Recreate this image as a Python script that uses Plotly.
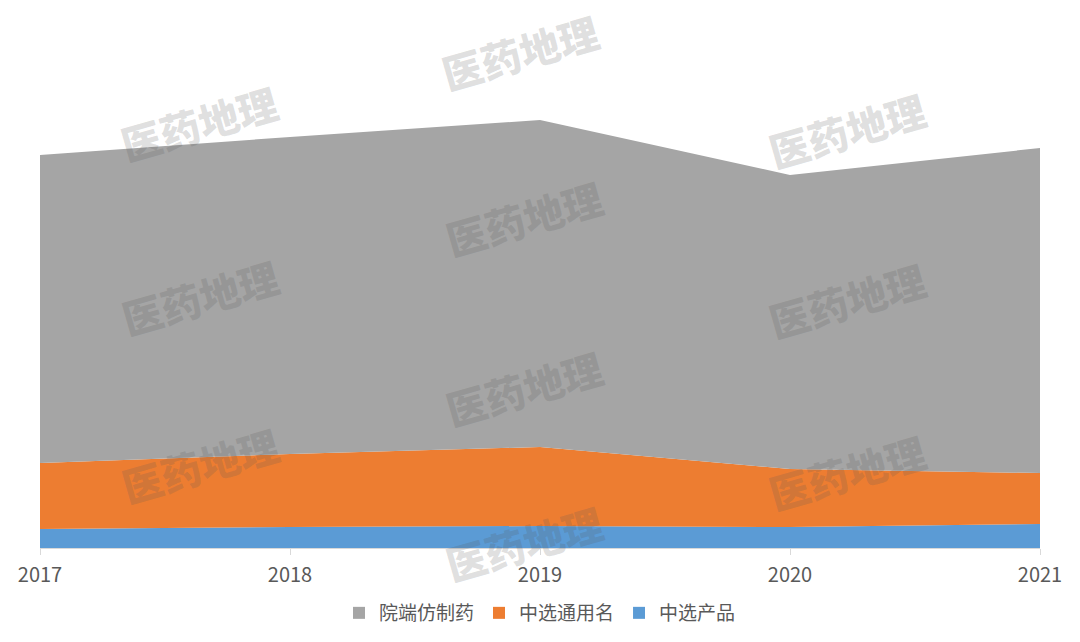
import plotly.graph_objects as go

years = [2017, 2018, 2019, 2020, 2021]
series_names = ["中选产品", "中选通用名", "院端仿制药"]
selected_products = [19, 21, 22, 21, 24]
selected_generic_names = [66, 73, 79, 58, 51]
hospital_generics = [308, 317, 327, 294, 325]
colors = ["#5B9BD5", "#ED7D31", "#A5A5A5"]
watermark_text = "医药地理"

FONT = "Noto Sans CJK SC, Microsoft YaHei, sans-serif"

fig = go.Figure()
for name, vals, col in zip(series_names,
                           [selected_products, selected_generic_names, hospital_generics],
                           colors):
    fig.add_trace(go.Scatter(
        x=years, y=vals, name=name, mode="lines",
        stackgroup="one", line=dict(width=0, color=col),
        fillcolor=col, hoverinfo="x+y+name", showlegend=False,
    ))
# legend entries with square swatches
for name, col in zip(series_names, colors):
    fig.add_trace(go.Scatter(
        x=[None], y=[None], mode="markers", name=name,
        marker=dict(symbol="square", size=10, color=col), showlegend=True,
    ))

# watermark positions (figure pixels)
wm_px = [(520, 52), (199, 123), (847, 130), (524, 218), (200, 297),
         (847, 300), (524, 388), (200, 465), (847, 472), (524, 543)]
L, R, T, B = 40, 40, 20, 94
W, H = 1080, 642
pw, ph = W - L - R, H - T - B
for (px, py) in wm_px:
    fig.add_annotation(
        x=(px - L) / pw, y=(H - B - py) / ph, xref="paper", yref="paper",
        text=watermark_text, showarrow=False, textangle=-16,
        font=dict(family=FONT, size=40, color="rgba(90,90,90,0.2)", weight=900),
        xanchor="center", yanchor="middle",
    )

fig.update_layout(
    width=W, height=H,
    margin=dict(l=L, r=R, t=T, b=B, autoexpand=False),
    paper_bgcolor="white", plot_bgcolor="white",
    font=dict(family=FONT, color="#595959"),
    showlegend=True,
    legend=dict(orientation="h", x=0.5, xanchor="center",
                yref="container", y=(H - 613) / H, yanchor="middle",
                traceorder="reversed", font=dict(size=19, color="#595959"),
                itemwidth=30, itemsizing="constant"),
    xaxis=dict(range=[2017, 2021], tickvals=years, ticktext=[str(y) for y in years],
               showgrid=False, zeroline=False, showline=True, linecolor="#D9D9D9",
               linewidth=1, ticks="outside", ticklen=6, tickcolor="#D9D9D9",
               ticklabelstandoff=3, automargin=False,
               tickfont=dict(size=20, color="#595959", family=FONT)),
    yaxis=dict(range=[0, 528], visible=False, showgrid=False, zeroline=False),
)

fig.write_html("out.html", config={"displayModeBar": False},
               post_script="document.body.style.margin='0px';")
